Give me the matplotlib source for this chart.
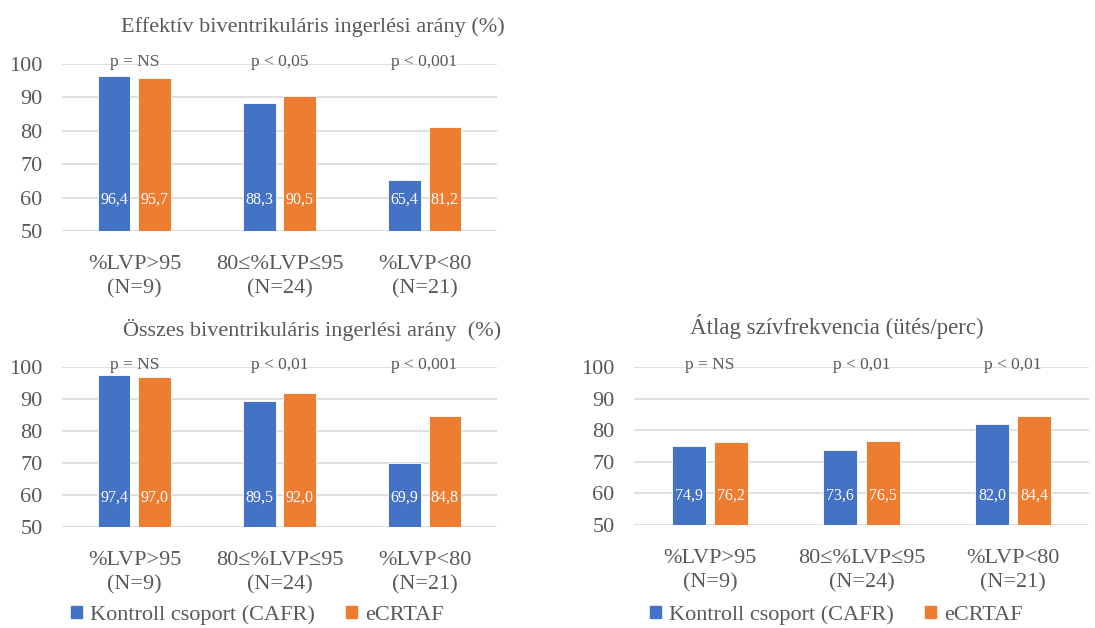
import matplotlib
matplotlib.use("Agg")
import matplotlib.pyplot as plt
from matplotlib.patches import Patch
import numpy as np

plt.rcParams['font.family'] = ['Liberation Serif', 'DejaVu Serif']

categories = ["%LVP>95\n(N=9)", "80≤%LVP≤95\n(N=24)", "%LVP<80\n(N=21)"]
series_names = ["Kontroll csoport (CAFR)", "eCRTAF"]
yticks = [50, 60, 70, 80, 90, 100]

# effektív BiV ingerlés
eff_kontroll = [96.4, 88.3, 65.4]
eff_ecrtaf = [95.7, 90.5, 81.2]
eff_p = ["p = NS", "p < 0,05", "p < 0,001"]

# összes BiV ingerlés
ossz_kontroll = [97.4, 89.5, 69.9]
ossz_ecrtaf = [97.0, 92.0, 84.8]
ossz_p = ["p = NS", "p < 0,01", "p < 0,001"]

# átlag szívfrekvencia
hr_kontroll = [74.9, 73.6, 82.0]
hr_ecrtaf = [76.2, 76.5, 84.4]
hr_p = ["p = NS", "p < 0,01", "p < 0,01"]

BLUE = '#4472C4'
ORANGE = '#ED7D31'
GRID = '#d9d9d9'
TXT = '#595959'


def draw_panel(ax, kontroll, ecrtaf, pvals):
    x = np.arange(len(categories))
    w = 0.225
    off = 0.14
    ax.bar(x - off, kontroll, w, bottom=0, color=BLUE, edgecolor='white', linewidth=0.6, zorder=3)
    ax.bar(x + off, ecrtaf, w, bottom=0, color=ORANGE, edgecolor='white', linewidth=0.6, zorder=3)
    for i in range(len(x)):
        ax.text(x[i] - off, 59.3, f"{kontroll[i]:.1f}".replace('.', ','), ha='center', va='center',
                color='white', fontsize=11.5, zorder=4)
        ax.text(x[i] + off, 59.3, f"{ecrtaf[i]:.1f}".replace('.', ','), ha='center', va='center',
                color='white', fontsize=11.5, zorder=4)
        ax.text(x[i], 99.4, pvals[i], ha='center', va='baseline', color=TXT, fontsize=12.5)
    ax.set_ylim(50, 100)
    ax.set_xlim(-0.5, 2.5)
    ax.set_yticks(yticks)
    ax.set_xticks(x)
    ax.set_xticklabels(categories, fontsize=16, color=TXT, linespacing=1.4)
    ax.tick_params(axis='y', labelsize=16, colors=TXT, length=0, pad=14)
    ax.tick_params(axis='x', length=0, pad=17)
    ax.grid(axis='y', color=GRID, linewidth=1.2, zorder=0)
    for s in ax.spines.values():
        s.set_visible(False)


fig = plt.figure(figsize=(10.95, 6.28), dpi=100)

ax1 = fig.add_axes([0.0566, 0.6322, 0.3973, 0.2659])
draw_panel(ax1, eff_kontroll, eff_ecrtaf, eff_p)
ax2 = fig.add_axes([0.0566, 0.1608, 0.3973, 0.2548])
draw_panel(ax2, ossz_kontroll, ossz_ecrtaf, ossz_p)
ax3 = fig.add_axes([0.579, 0.164, 0.4155, 0.2516])
draw_panel(ax3, hr_kontroll, hr_ecrtaf, hr_p)

fig.text(0.2858, 0.957, "Effektív biventrikuláris ingerlési arány (%)", ha='center', va='center',
         fontsize=16, color=TXT)
fig.text(0.285, 0.4745, "Összes biventrikuláris ingerlési arány  (%)", ha='center', va='center',
         fontsize=16, color=TXT)
fig.text(0.7644, 0.4793, "Átlag szívfrekvencia (ütés/perc)", ha='center', va='center',
         fontsize=16.5, color=TXT)

handles = [Patch(color=BLUE), Patch(color=ORANGE)]
for xc in [0.235, 0.764]:
    fig.legend(handles, series_names, loc='center', bbox_to_anchor=(xc, 0.0207), ncol=2,
               frameon=False, fontsize=16, handlelength=0.5, handleheight=0.5,
               handletextpad=0.35, columnspacing=1.4, labelcolor=TXT)

fig.savefig("out.png", dpi=100)
